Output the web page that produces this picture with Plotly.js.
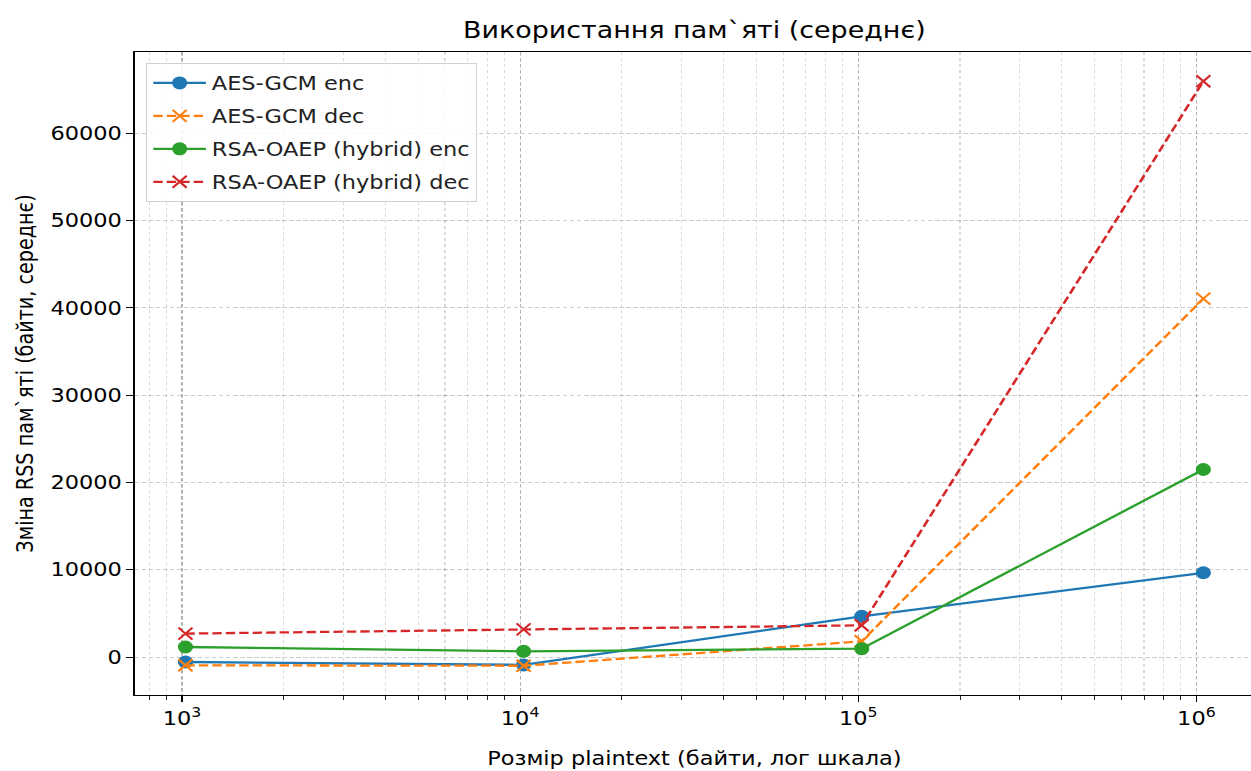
<!DOCTYPE html>
<html>
<head>
<meta charset="utf-8">
<script src="https://cdn.plot.ly/plotly-3.0.1.min.js"></script>
<style>
html,body{margin:0;padding:0;overflow:hidden;background:#fff;width:1251px;height:771px;}
#wrap{transform:scaleX(1.17);transform-origin:0 0;width:1075px;height:771px;}
</style>
</head>
<body>
<div id="wrap"><div id="chart" style="width:1075px;height:771px;"></div></div>
<script>
const sizes = [1024, 10240, 102400, 1048576];
const seriesNames = ["AES-GCM enc", "AES-GCM dec", "RSA-OAEP (hybrid) enc", "RSA-OAEP (hybrid) dec"];
const aesEnc = [-570, -900, 4660, 9650];
const aesDec = [-950, -1000, 1800, 41050];
const rsaEnc = [1150, 650, 960, 21480];
const rsaDec = [2680, 3170, 3630, 65950];
const xTickVals = [1000, 10000, 100000, 1000000];
const xTickText = ["10<sup>3</sup>", "10<sup>4</sup>", "10<sup>5</sup>", "10<sup>6</sup>"];
const yTickVals = [0, 10000, 20000, 30000, 40000, 50000, 60000];

const colors = ["#1f77b4", "#ff7f0e", "#2ca02c", "#d62728"];
const F = "DejaVu Sans, sans-serif";

function trace(name, y, i, dashed) {
  return {
    x: sizes, y: y, name: name, type: "scatter", mode: "lines+markers",
    legendgroup: "g" + i,
    line: {color: colors[i], width: 2.3, dash: dashed ? "8px,3.5px" : "solid"},
    marker: dashed
      ? {symbol: "x-thin", size: 12, color: colors[i], line: {color: colors[i], width: 2}}
      : {symbol: "circle", size: 13, color: colors[i]}
  };
}

const data = [
  trace(seriesNames[0], aesEnc, 0, false),
  trace(seriesNames[1], aesDec, 1, true),
  trace(seriesNames[2], rsaEnc, 2, false),
  trace(seriesNames[3], rsaDec, 3, true)
];

const lx0 = Math.log10(sizes[0]), lx1 = Math.log10(sizes[sizes.length - 1]);
const pad = (lx1 - lx0) * 0.05;

const layout = {
  width: 1075, height: 771,
  margin: {l: 115.4, r: 2.7, t: 52.2, b: 76.4},
  paper_bgcolor: "#fff", plot_bgcolor: "#fff",
  font: {family: F, size: 19.2, color: "#000"},
  title: {text: "Використання пам`яті (середнє)", font: {family: F, size: 23, color: "#000"},
          x: 0.5, xref: "paper", y: 1 - 30 / 771, yref: "container", yanchor: "middle"},
  showlegend: true,
  legend: {x: 0.0105, y: 0.983, xanchor: "left", yanchor: "top",
           bgcolor: "rgba(255,255,255,0.85)", bordercolor: "#d0d0d0", borderwidth: 1,
           itemwidth: 45,
           font: {family: F, size: 19.2, color: "#222"}, tracegroupgap: 5},
  xaxis: {
    type: "log", range: [lx0 - pad, lx1 + pad],
    tickvals: xTickVals, ticktext: xTickText,
    ticks: "outside", ticklen: 6, tickwidth: 1, tickcolor: "#000",
    showline: true, linecolor: "#000", linewidth: 1, mirror: true,
    showgrid: true, gridcolor: "rgba(0,0,0,0.18)", griddash: "4px,2px", gridwidth: 1,
    zeroline: false,
    tickfont: {family: F, size: 19.2, color: "#000"},
    minor: {dtick: "D1", ticks: "outside", ticklen: 4, tickcolor: "#000", tickwidth: 0.8,
            showgrid: true, gridcolor: "rgba(0,0,0,0.15)", griddash: "dot", gridwidth: 1},
    title: {text: "Розмір plaintext (байти, лог шкала)", font: {family: F, size: 19.2, color: "#000"}, standoff: 22}
  },
  yaxis: {
    range: [-4350, 69300],
    tickvals: yTickVals, tickformat: "d",
    ticks: "outside", ticklen: 6, tickwidth: 1, tickcolor: "#000",
    showline: true, linecolor: "#000", linewidth: 1, mirror: true,
    showgrid: true, gridcolor: "rgba(0,0,0,0.2)", griddash: "4px,2px", gridwidth: 1,
    zeroline: false,
    tickfont: {family: F, size: 19.2, color: "#000"},
    title: {text: "Зміна RSS пам`яті (байти, середнє)", font: {family: F, size: 19.2, color: "#000"}, standoff: 9}
  }
};

Plotly.newPlot("chart", data, layout, {displayModeBar: false, staticPlot: true});
</script>
</body>
</html>
